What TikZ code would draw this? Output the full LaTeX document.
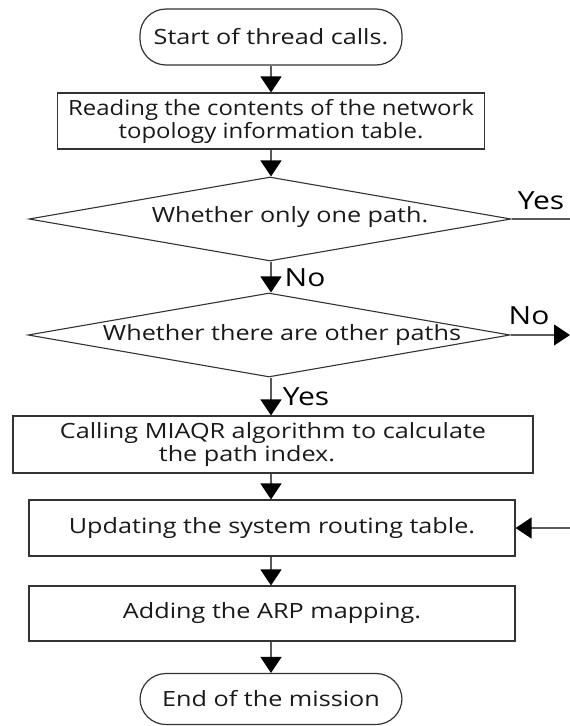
\documentclass[tikz,border=0pt]{standalone}
\usepackage{fontspec}
\setmainfont{Open Sans}[FakeStretch=1.2]
\usetikzlibrary{shapes.geometric,arrows.meta}
\begin{document}
\begin{tikzpicture}[x=1pt,y=-1pt,
  every node/.style={font=\fontsize{21}{23}\selectfont, text=black!90, inner sep=0pt},
  term/.style={draw=black!80, line width=1.2pt, rounded corners=26pt, minimum width=262pt},
  proc/.style={draw=black!80, line width=1.2pt, align=center},
  dec/.style={draw=black!80, line width=1.1pt, diamond, minimum width=482pt, minimum height=84pt, aspect=5.7},
  lbl/.style={font=\fontsize{25}{27}\selectfont, text=black},
  conn/.style={draw=black!65, line width=1.3pt},
  arr/.style={conn, -{Triangle[width=21pt,length=16pt,color=black]}}
]
\useasboundingbox (0,0) rectangle (570,726);
\node[term, minimum height=56pt] (start) at (271,37) {Start of thread calls.};
\node[proc, minimum width=427pt, minimum height=56pt] (read) at (271,121)
  {\addfontfeature{FakeStretch=1.14}Reading the contents of the network\\\addfontfeature{FakeStretch=1.14}topology information table.};
\node[dec] (d1) at (270,219) {};
\node (t1) at (290,217) {Whether only one path.};
\node[dec] (d2) at (269,335) {};
\node (t2) at (282,335) {Whether there are other paths};
\node[proc, minimum width=520pt, minimum height=57pt] (calc) at (273,444.5)
  {Calling MIAQR algorithm to calculate\\the path index.\hspace*{52pt}};
\node[proc, minimum width=486pt, minimum height=56pt] (upd) at (272,528) {\raisebox{4pt}{Updating the system routing table.}};
\node[proc, minimum width=486pt, minimum height=55pt] (arp) at (272,613.5) {Adding the ARP mapping.};
\node[term, minimum height=51pt] (end) at (271,699) {End of the mission};

\coordinate (yesout) at (570,219);
\coordinate (noout) at (570,335);
\coordinate (backin) at (570,528);

\draw[arr] (start.south) -- (read.north -| start.south);
\draw[arr] (read.south -| start.south) -- (d1.north -| start.south);
\draw[conn] (d1.east) -- (yesout);
\draw[arr] (d1.south -| start.south) -- (d2.north -| start.south);
\draw[arr] (d2.east) -- (noout);
\draw[arr] (d2.south -| start.south) -- (calc.north -| start.south);
\draw[arr] (calc.south -| start.south) -- (upd.north -| start.south);
\draw[arr] (backin) -- (upd.east);
\draw[arr] (upd.south -| start.south) -- (arp.north -| start.south);
\draw[arr] (arp.south -| start.south) -- (end.north);

\node[lbl] (y1) at (541,201) {Yes};
\node[lbl] (n1) at (305,278) {No};
\node[lbl] (n2) at (529,316) {No};
\node[lbl] (y2) at (306,397) {Yes};
\end{tikzpicture}
\end{document}
